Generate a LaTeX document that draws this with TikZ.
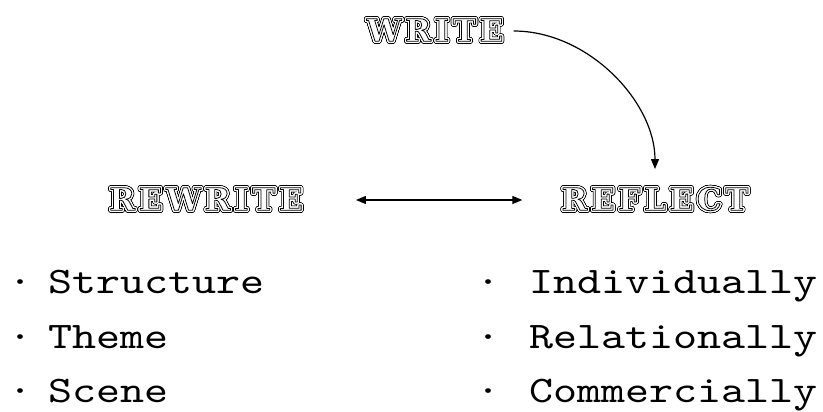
\documentclass[tikz,border=0pt]{standalone}
\usepackage{fontspec}
\usepackage[copies]{contour}
\usetikzlibrary{arrows.meta,positioning}

\newfontfamily\stagefont{DejaVu Serif Bold}[FakeBold=2.5,LetterSpace=12]
\newfontfamily\listfont{lmmono10-regular}[Extension=.otf,FakeStretch=1.22]
\contournumber{32}
% double outline: black ring, white gap, thin line
\newcommand{\hollow}[1]{\special{pdf:code 1 j}%
  \rlap{\contourlength{2pt}\contour{black}{#1}}%
  \rlap{\contourlength{1.1pt}\contour{white}{\textcolor{white}{#1}}}%
  \special{pdf:bcolor [1 1 1] [0 0 0]}#1\special{pdf:ecolor}}

\begin{document}
\begin{tikzpicture}[
  x=1pt,y=1pt,
  node distance=14pt,
  stage/.style={inner sep=0pt,font=\stagefont\fontsize{31}{31}\selectfont},
  point/.style={inner sep=0pt,text height=30pt,text depth=10pt,font=\listfont\fontsize{37.5}{37.5}\selectfont},
  ar/.style={-{Triangle[length=10pt,width=8pt]},line width=1.2pt},
  dar/.style={{Triangle[length=10pt,width=8pt]}-{Triangle[length=10pt,width=8pt]},line width=1.2pt}
]
\useasboundingbox (0,0) rectangle (823,412);

\node[stage] (write) at (435,381) {\hollow{WRITE}};
\node[stage] (rewrite) at (206,212) {\hollow{REWRITE}};
\node[stage] (reflect) at (655,212) {\hollow{REFLECT}};

% rewrite column
\node[point,anchor=west] (s1) at (48,128) {Structure};
\node[point,below=14pt of s1.south west,anchor=north west] (s2) {Theme};
\node[point,below=14pt of s2.south west,anchor=north west] (s3) {Scene};
\node[point,left=15pt of s1] (b1) {·};
\node[point,left=15pt of s2] (b2) {·};
\node[point,left=15pt of s3] (b3) {·};

% reflect column
\node[point,anchor=west] (r1) at (529,128) {Individually};
\node[point,below=14pt of r1.south west,anchor=north west] (r2) {Relationally};
\node[point,below=14pt of r2.south west,anchor=north west] (r3) {Commercially};
\node[point,left=28pt of r1] (c1) {·};
\node[point,left=28pt of r2] (c2) {·};
\node[point,left=28pt of r3] (c3) {·};

\draw[ar,shorten <=10pt,shorten >=18pt] (write.east) to[out=0,in=90] (reflect.north);
\draw[dar,shorten <=53pt,shorten >=39pt] (rewrite) -- (reflect);
\end{tikzpicture}
\end{document}
